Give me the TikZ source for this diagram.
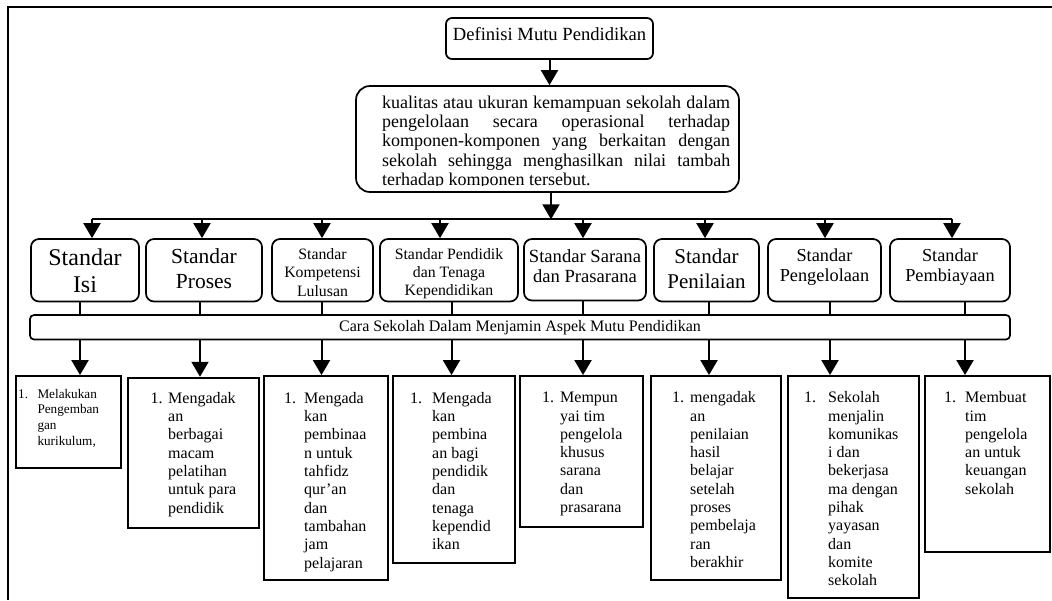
\documentclass[tikz,border=0pt]{standalone}
\usepackage{fontspec}
\setmainfont{Liberation Serif}
\usetikzlibrary{arrows.meta,calc}
\newcommand\clines[1]{\begin{tabular}[t]{@{}c@{}}#1\end{tabular}}
\newcommand\llines[1]{\parbox[t]{4cm}{\raggedright #1}}
\newcommand\mkbox[6]{\node[#1,minimum width={#5-#3},minimum height={#6-#4}] (#2) at ({(#3+#5)/2},{(#4+#6)/2}) {};}
\begin{document}
\begin{tikzpicture}[x=1pt,y=-1pt,
  arr/.style={line width=2pt,-{Triangle[width=17pt,length=15pt]}},
  ln/.style={line width=2pt},
  rbox/.style={draw,line width=1.7pt,rounded corners=8pt,inner sep=0pt},
  sqbox/.style={draw,line width=1.9pt,inner sep=0pt},
  txt/.style={inner sep=0pt,anchor=base},
  ltxt/.style={inner sep=0pt,anchor=base west},
  bfont/.style={font=\fontsize{16}{18.3}\selectfont}
]
\useasboundingbox (0,0) rectangle (1052,600);
\draw[line width=2pt] (8,600) -- (8,7) -- (1052,7);

% top boxes
\mkbox{rbox,rounded corners=6pt}{def}{446}{18}{653}{59}
\node[txt,font=\fontsize{18.6}{20}\selectfont] (deft) at (549.5,40) {Definisi Mutu Pendidikan};
\mkbox{rbox,rounded corners=14pt}{big}{356}{86}{739}{192}
\begin{scope}
\clip (356,86) rectangle (739,185.6);
\node[ltxt,font=\fontsize{18}{19.2}\selectfont] (bigt) at (382,108.5) {\begin{tabular}[t]{@{}l@{}}%
\makebox[348pt][s]{kualitas atau ukuran kemampuan sekolah dalam}\\
\makebox[348pt][s]{pengelolaan secara operasional terhadap}\\
\makebox[348pt][s]{komponen-komponen yang berkaitan dengan}\\
\makebox[348pt][s]{sekolah sehingga menghasilkan nilai tambah}\\
terhadap komponen tersebut.\end{tabular}};
\end{scope}
\draw[arr] (def.south) -- (def.south |- big.north);

% standar boxes
\mkbox{rbox}{s1}{31}{239}{139}{301.5}
\mkbox{rbox}{s2}{146}{239}{262}{301.5}
\mkbox{rbox}{s3}{272}{239}{373}{301.5}
\mkbox{rbox}{s4}{380}{239}{518}{301.5}
\mkbox{rbox}{s5}{524}{239}{646}{300.5}
\mkbox{rbox}{s6}{654}{239}{759}{301.5}
\mkbox{rbox}{s7}{768}{239}{881}{301.5}
\mkbox{rbox}{s8}{890}{239}{1010}{301.5}

\node[txt,font=\fontsize{24}{26.7}\selectfont] (t1) at (85,265.3) {\clines{Standar\\Isi}};
\node[txt,font=\fontsize{21.5}{25}\selectfont] (t2) at (204,263) {\clines{Standar\\Proses}};
\node[txt,font=\fontsize{15.8}{18.4}\selectfont] (t3) at (322.5,259.3) {\clines{Standar\\Kompetensi\\Lulusan}};
\node[txt,font=\fontsize{15.8}{18.4}\selectfont] (t4) at (449,259) {\clines{Standar Pendidik\\dan Tenaga\\Kependidikan}};
\node[txt,font=\fontsize{18.6}{20}\selectfont] (t5) at (585,262.7) {\clines{Standar Sarana\\dan Prasarana}};
\node[txt,font=\fontsize{21}{25}\selectfont] (t6) at (706.5,263.3) {\clines{Standar\\Penilaian}};
\node[txt,font=\fontsize{18.3}{20}\selectfont] (t7) at (824.5,261.7) {\clines{Standar\\Pengelolaan}};
\node[txt,font=\fontsize{18.3}{20}\selectfont] (t8) at (950,261.7) {\clines{Standar\\Pembiayaan}};

% distribution line
\coordinate (a1) at (92,219.3);
\coordinate (a2) at (202,219.3);
\coordinate (a3) at (322,219.3);
\coordinate (a4) at (440,219.3);
\coordinate (a5) at (583,219.3);
\coordinate (a6) at (705,219.3);
\coordinate (a7) at (825,219.3);
\coordinate (a8) at (952,219.3);
\coordinate (hm) at (551,219.3);
\draw[ln] (a1) -- (a8);
\draw[arr] (hm |- big.south) -- (hm);
\foreach \i in {1,...,8} {\draw[arr] (a\i) -- (a\i |- s\i.north);}

% bar
\mkbox{rbox,rounded corners=4pt}{bar}{30}{315}{1010}{339.5}
\node[txt,font=\fontsize{16}{18}\selectfont] (bart) at (520,331.7) {Cara Sekolah Dalam Menjamin Aspek Mutu Pendidikan};

% bottom boxes
\mkbox{sqbox}{b1}{16}{376}{121}{468.3}
\mkbox{sqbox}{b2}{128}{377.7}{259}{528.3}
\mkbox{sqbox}{b3}{264}{376}{388}{580}
\mkbox{sqbox}{b4}{393}{376}{515}{562.7}
\mkbox{sqbox}{b5}{520}{376}{643}{526.7}
\mkbox{sqbox}{b6}{651}{376}{781}{580}
\mkbox{sqbox}{b7}{788}{376}{919}{598.3}
\mkbox{sqbox}{b8}{925}{376}{1050}{551.7}

\coordinate (v1) at (80,0);
\coordinate (v2) at (200,0);
\coordinate (v3) at (321.5,0);
\coordinate (v4) at (451.5,0);
\coordinate (v5) at (583,0);
\coordinate (v6) at (709,0);
\coordinate (v7) at (830,0);
\coordinate (v8) at (965,0);
\foreach \i in {1,...,8} {
  \draw[ln] (v\i |- s\i.south) -- (v\i |- bar.north);
  \draw[arr] (v\i |- bar.south) -- (v\i |- b\i.north);
}

% bottom texts
\node[ltxt,font=\fontsize{13.2}{15.7}\selectfont] (n1) at (18,398) {1.};
\node[ltxt,font=\fontsize{13.2}{15.7}\selectfont] (l1) at (37.3,398) {\llines{Melakukan\\Pengemban\\gan\\kurikulum,}};
\node[ltxt,bfont] (n2) at (150.5,403.3) {1.};
\node[ltxt,bfont] (l2) at (168,403.3) {\llines{Mengadak\\an\\berbagai\\macam\\pelatihan\\untuk para\\pendidik}};
\node[ltxt,bfont] (n3) at (284,403.3) {1.};
\node[ltxt,bfont] (l3) at (304,403.3) {\llines{Mengada\\kan\\pembinaa\\n untuk\\tahfidz\\qur’an\\dan\\tambahan\\jam\\pelajaran}};
\node[ltxt,bfont] (n4) at (410,403.3) {1.};
\node[ltxt,bfont] (l4) at (432,403.3) {\llines{Mengada\\kan\\pembina\\an bagi\\pendidik\\dan\\tenaga\\kependid\\ikan}};
\node[ltxt,bfont] (n5) at (542,402.7) {1.};
\node[ltxt,bfont] (l5) at (560,402.7) {\llines{Mempun\\yai tim\\pengelola\\khusus\\sarana\\dan\\prasarana}};
\node[ltxt,bfont] (n6) at (672,402.7) {1.};
\node[ltxt,bfont] (l6) at (690,402.7) {\llines{mengadak\\an\\penilaian\\hasil\\belajar\\setelah\\proses\\pembelaja\\ran\\berakhir}};
\node[ltxt,bfont] (n7) at (804,402.7) {1.};
\node[ltxt,bfont] (l7) at (828,402.7) {\llines{Sekolah\\menjalin\\komunikas\\i dan\\bekerjasa\\ma dengan\\pihak\\yayasan\\dan\\komite\\sekolah}};
\node[ltxt,bfont] (n8) at (944,402.7) {1.};
\node[ltxt,bfont] (l8) at (965,402.7) {\llines{Membuat\\tim\\pengelola\\an untuk\\keuangan\\sekolah}};
\end{tikzpicture}
\end{document}
